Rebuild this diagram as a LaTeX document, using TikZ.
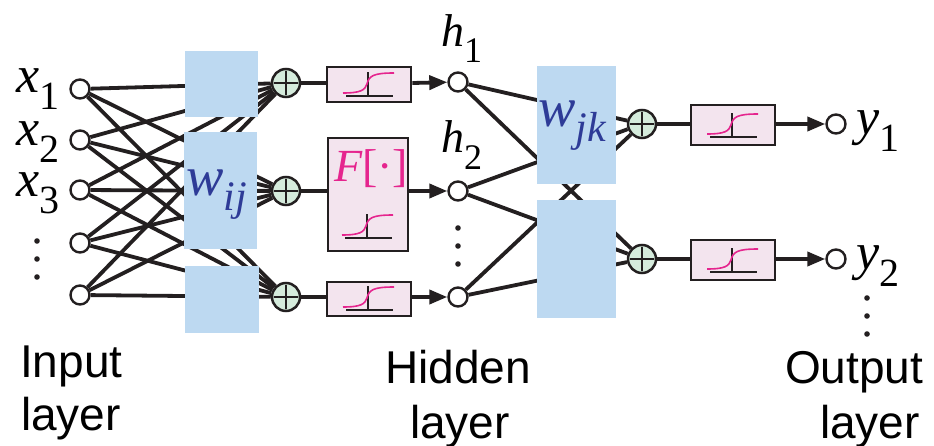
\documentclass[tikz,border=0pt]{standalone}
\usepackage{fontspec}
\setmainfont{Liberation Serif}
\newfontfamily\tms{Liberation Serif}
\newfontfamily\labfont{Liberation Sans}
\usetikzlibrary{arrows.meta,backgrounds}
\definecolor{ink}{HTML}{231F20}
\definecolor{wblue}{HTML}{BDD9F1}
\definecolor{fpink}{HTML}{F3E4EE}
\definecolor{sumgreen}{HTML}{D5EBDC}
\definecolor{sigmag}{HTML}{E5258E}
\definecolor{wtext}{HTML}{2E3B97}
\newcommand\fs[1]{\fontsize{#1}{#1}\selectfont}
\newcommand\tit[1]{{\tms\itshape #1}}
\begin{document}
\begin{tikzpicture}[x=1pt,y=-1pt,
  inode/.style={circle,draw=ink,line width=2.4pt,fill=white,minimum size=19pt,inner sep=0pt},
  sumnode/.style={circle,draw=ink,line width=2.5pt,fill=sumgreen,minimum size=28pt,inner sep=0pt,
    path picture={\draw[ink,line width=2pt]
      ([xshift=-12pt]path picture bounding box.center) -- ([xshift=12pt]path picture bounding box.center)
      ([yshift=-12pt]path picture bounding box.center) -- ([yshift=12pt]path picture bounding box.center);}},
  wbox/.style={rectangle,fill=wblue,draw=none,inner sep=0pt},
  fbox/.style={rectangle,draw=ink,line width=2.6pt,fill=fpink,inner sep=0pt},
  conn/.style={ink,line width=3.8pt},
  arr/.style={conn,-{Triangle[length=18pt,width=14pt]}},
  lab/.style={inner sep=0pt,anchor=base west},
  sig/.pic={
    \draw[ink,line width=2.4pt] (-23,0) -- (24,0);
    \draw[ink,line width=2.4pt] (-1,0) -- (-1,-24);
    \draw[sigmag,line width=1.6pt] (-26,-3) .. controls (-8,-3) and (-4,-6) .. (-2,-12)
       .. controls (0,-20) and (4,-23) .. (25,-23);
  }]
\useasboundingbox (0,0) rectangle (934,446);

% input nodes
\foreach \n/\y in {1/89,2/140,3/190,4/243,5/295}
  \node[inode] (x\n) at (80,\y) {};
% weight boxes
\node[wbox,minimum width=73pt,minimum height=66pt] (wa) at (221.5,84) {};
\node[wbox,minimum width=73pt,minimum height=117pt] (wb) at (220.5,190.5) {};
\node[wbox,minimum width=74pt,minimum height=67pt] (wc) at (222,299.5) {};
\node[wbox,minimum width=79pt,minimum height=118pt] (va) at (576.5,125) {};
\node[wbox,minimum width=79pt,minimum height=118pt] (vb) at (576.5,259) {};
% summing nodes
\node[sumnode] (s1) at (286,83) {};
\node[sumnode] (s2) at (286,191) {};
\node[sumnode] (s3) at (286,297) {};
\node[sumnode] (t1) at (642,124) {};
\node[sumnode] (t2) at (642,259) {};
% activation boxes
\node[fbox,minimum width=84pt,minimum height=35pt] (f1) at (369,84.5) {};
\node[fbox,minimum width=80pt,minimum height=113pt] (f2) at (368,194.5) {};
\node[fbox,minimum width=84pt,minimum height=34pt] (f3) at (369,299) {};
\node[fbox,minimum width=84pt,minimum height=40pt] (g1) at (733,125) {};
\node[fbox,minimum width=84pt,minimum height=40pt] (g2) at (733,260) {};
\pic at (369,96) {sig};
\pic at (368,238) {sig};
\pic at (369,310) {sig};
\pic at (733,137) {sig};
\pic at (733,272) {sig};
% hidden and output nodes
\node[inode] (h1) at (458,82) {};
\node[inode] (h2) at (458,191) {};
\node[inode] (h3) at (458,297) {};
\node[inode] (y1) at (836,124) {};
\node[inode] (y2) at (836,259) {};

\begin{scope}[on background layer]
  \foreach \n in {1,...,5}
    \foreach \s in {s1,s2,s3}
      \draw[conn] (x\n) -- (\s);
  \foreach \h in {h1,h2,h3}
    \foreach \t in {t1,t2}
      \draw[conn] (\h) -- (\t);
\end{scope}

% forward path
\draw[conn] (s1) -- (s1 -| f1.west);
\draw[arr] (s1 -| f1.east) -- (h1);
\draw[conn] (s2) -- (s2 -| f2.west);
\draw[arr] (s2 -| f2.east) -- (h2);
\draw[conn] (s3) -- (s3 -| f3.west);
\draw[arr] (s3 -| f3.east) -- (h3);
\draw[conn] (t1) -- (t1 -| g1.west);
\draw[arr] (t1 -| g1.east) -- (y1);
\draw[conn] (t2) -- (t2 -| g2.west);
\draw[arr] (t2 -| g2.east) -- (y2);

% dots
\foreach \y in {241,259,277} \fill[ink] (37,\y) circle (2.8pt);
\foreach \y in {228,246,264} \fill[ink] (458,\y) circle (2.8pt);
\foreach \y in {298,316,334} \fill[ink] (867,\y) circle (2.8pt);

% labels
\node[lab] (lx1) at (16,93) {\fs{52}\tit{x}\raisebox{-17pt}{\tms\fs{40}1}};
\node[lab] (lx2) at (16,146) {\fs{52}\tit{x}\raisebox{-17pt}{\tms\fs{40}2}};
\node[lab] (lx3) at (16,197) {\fs{52}\tit{x}\raisebox{-17pt}{\tms\fs{40}3}};
\node[lab] (lh1) at (441,47) {\fs{46}\tit{h}\raisebox{-16pt}{\tms\fs{36}1}};
\node[lab] (lh2) at (441,153) {\fs{46}\tit{h}\raisebox{-17pt}{\tms\fs{36}2}};
\node[lab] (lwij) at (186,196) {\color{wtext}\fs{56}\tit{w}\raisebox{-15pt}{\fs{42}\tit{ij}}};
\node[lab] (lwjk) at (538,127) {\color{wtext}\fs{56}\tit{w}\raisebox{-15pt}{\fs{42}\tit{jk}}};
\node[lab] (lF) at (334,182) {\color{sigmag}\fs{46}\tit{F}{\tms[·]}};
\node[lab] (ly1) at (856,135) {\fs{52}\tit{y}\raisebox{-17pt}{\tms\fs{40}1}};
\node[lab] (ly2) at (856,270) {\fs{52}\tit{y}\raisebox{-17pt}{\tms\fs{40}2}};

\node[lab] (in1) at (20,377) {\labfont\fs{46}Input};
\node[lab] (in2) at (21,430) {\labfont\fs{46}layer};
\node[lab] (hd1) at (385,383) {\labfont\fs{46}Hidden};
\node[lab] (hd2) at (410,438) {\labfont\fs{46}layer};
\node[lab] (ou1) at (785,383) {\labfont\fs{46}Output};
\node[lab] (ou2) at (820,438) {\labfont\fs{46}layer};
\end{tikzpicture}
\end{document}
